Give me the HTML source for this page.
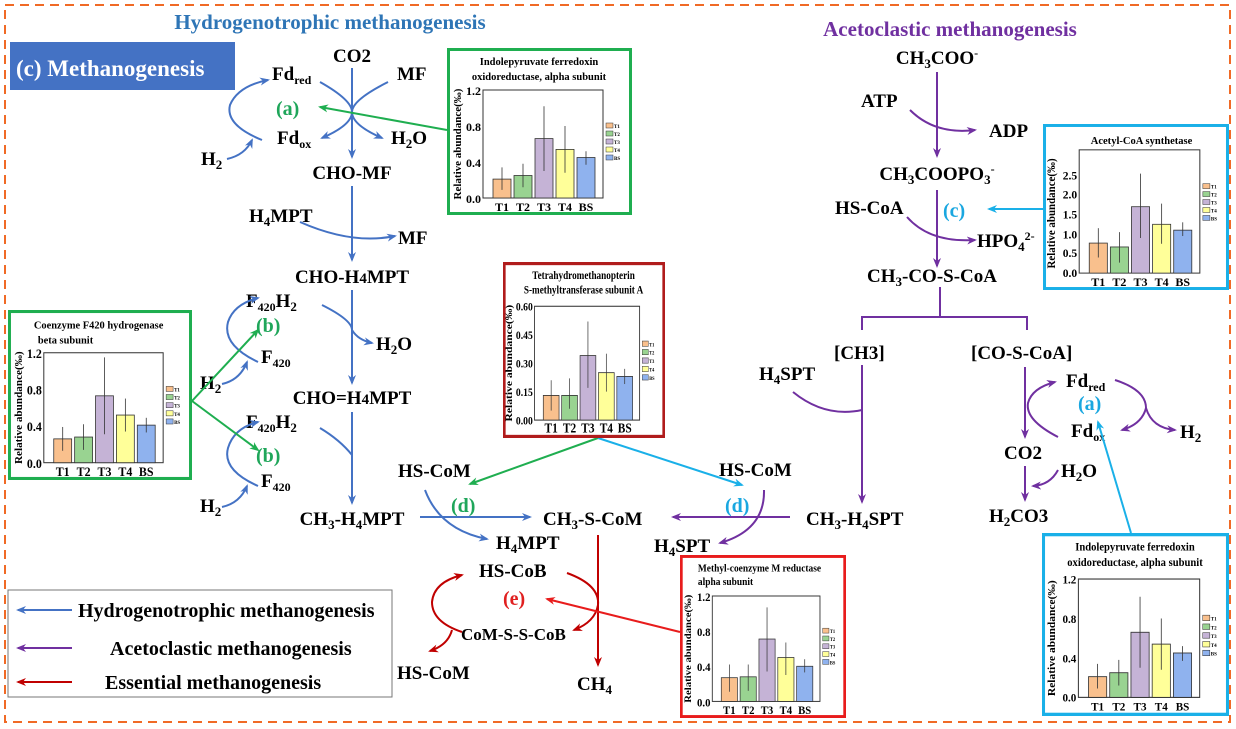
<!DOCTYPE html>
<html><head><meta charset="utf-8">
<style>
html,body{margin:0;padding:0;background:#fff;}
svg{display:block;}
text{font-family:"Liberation Serif",serif;font-weight:bold;}
</style></head>
<body>
<svg width="1236" height="729" viewBox="0 0 1236 729" xmlns="http://www.w3.org/2000/svg">
<defs>
<marker id="mb" markerWidth="10" markerHeight="8" refX="8" refY="4" orient="auto" markerUnits="userSpaceOnUse"><path d="M0,0 L10,4 L0,8 L3,4z" fill="#4472c4"/></marker>
<marker id="mp" markerWidth="10" markerHeight="8" refX="8" refY="4" orient="auto" markerUnits="userSpaceOnUse"><path d="M0,0 L10,4 L0,8 L3,4z" fill="#7030a0"/></marker>
<marker id="md" markerWidth="10" markerHeight="8" refX="8" refY="4" orient="auto" markerUnits="userSpaceOnUse"><path d="M0,0 L10,4 L0,8 L3,4z" fill="#c00000"/></marker>
<marker id="mg" markerWidth="10" markerHeight="8" refX="8" refY="4" orient="auto" markerUnits="userSpaceOnUse"><path d="M0,0 L10,4 L0,8 L3,4z" fill="#1fae50"/></marker>
<marker id="mc" markerWidth="10" markerHeight="8" refX="8" refY="4" orient="auto" markerUnits="userSpaceOnUse"><path d="M0,0 L10,4 L0,8 L3,4z" fill="#1ab0e8"/></marker>
<marker id="mr" markerWidth="10" markerHeight="8" refX="8" refY="4" orient="auto" markerUnits="userSpaceOnUse"><path d="M0,0 L10,4 L0,8 L3,4z" fill="#e81c1c"/></marker>
</defs>
<rect x="0" y="0" width="1236" height="729" fill="#fff"/>
<rect x="5" y="5" width="1225" height="717" fill="none" stroke="#f06a26" stroke-width="2" stroke-dasharray="9,6"/>

<text x="330" y="29" font-size="21" fill="#2e75b6" text-anchor="middle">Hydrogenotrophic methanogenesis</text>
<text x="950" y="36" font-size="21" fill="#7030a0" text-anchor="middle">Acetoclastic methanogenesis</text>
<rect x="10" y="42" width="225" height="48" fill="#4472c4"/>
<text x="16" y="76" font-size="23" fill="#fff">(c) Methanogenesis</text>

<g font-size="19" fill="#000">
<text x="352" y="62" text-anchor="middle">CO2</text>
<text x="272" y="80">Fd<tspan font-size="12" baseline-shift="-4">red</tspan></text>
<text x="397" y="80">MF</text>
<text x="277" y="144">Fd<tspan font-size="12" baseline-shift="-4">ox</tspan></text>
<text x="391" y="144">H<tspan font-size="13" baseline-shift="-4">2</tspan>O</text>
<text x="201" y="165">H<tspan font-size="13" baseline-shift="-4">2</tspan></text>
<text x="352" y="179" text-anchor="middle">CHO-MF</text>
<text x="249" y="222">H<tspan font-size="13" baseline-shift="-4">4</tspan>MPT</text>
<text x="398" y="244">MF</text>
<text x="352" y="283" text-anchor="middle">CHO-H<tspan font-size="15">4</tspan>MPT</text>
<text x="246" y="307">F<tspan font-size="12" baseline-shift="-4">420</tspan>H<tspan font-size="13" baseline-shift="-4">2</tspan></text>
<text x="261" y="363">F<tspan font-size="12" baseline-shift="-4">420</tspan></text>
<text x="376" y="350">H<tspan font-size="13" baseline-shift="-4">2</tspan>O</text>
<text x="200" y="389">H<tspan font-size="13" baseline-shift="-4">2</tspan></text>
<text x="352" y="404" text-anchor="middle">CHO=H<tspan font-size="15">4</tspan>MPT</text>
<text x="246" y="428">F<tspan font-size="12" baseline-shift="-4">420</tspan>H<tspan font-size="13" baseline-shift="-4">2</tspan></text>
<text x="261" y="487">F<tspan font-size="12" baseline-shift="-4">420</tspan></text>
<text x="200" y="512">H<tspan font-size="13" baseline-shift="-4">2</tspan></text>
<text x="352" y="525" text-anchor="middle">CH<tspan font-size="13" baseline-shift="-4">3</tspan>-H<tspan font-size="13" baseline-shift="-4">4</tspan>MPT</text>
<text x="398" y="477">HS-CoM</text>
<text x="543" y="525">CH<tspan font-size="13" baseline-shift="-4">3</tspan>-S-CoM</text>
<text x="496" y="549">H<tspan font-size="13" baseline-shift="-4">4</tspan>MPT</text>
<text x="479" y="577">HS-CoB</text>
<text x="461" y="640" font-size="17">CoM-S-S-CoB</text>
<text x="397" y="679">HS-CoM</text>
<text x="577" y="690">CH<tspan font-size="13" baseline-shift="-4">4</tspan></text>
<text x="719" y="476">HS-CoM</text>
<text x="654" y="552">H<tspan font-size="13" baseline-shift="-4">4</tspan>SPT</text>
<text x="806" y="525">CH<tspan font-size="13" baseline-shift="-4">3</tspan>-H<tspan font-size="13" baseline-shift="-4">4</tspan>SPT</text>
<text x="937" y="64" text-anchor="middle">CH<tspan font-size="13" baseline-shift="-4">3</tspan>COO<tspan font-size="12" baseline-shift="7">-</tspan></text>
<text x="861" y="107">ATP</text>
<text x="989" y="137">ADP</text>
<text x="937" y="180" text-anchor="middle">CH<tspan font-size="13" baseline-shift="-4">3</tspan>COOPO<tspan font-size="13" baseline-shift="-4">3</tspan><tspan font-size="12" baseline-shift="7">-</tspan></text>
<text x="835" y="214">HS-CoA</text>
<text x="977" y="247">HPO<tspan font-size="13" baseline-shift="-4">4</tspan><tspan font-size="12" baseline-shift="7">2-</tspan></text>
<text x="932" y="282" text-anchor="middle">CH<tspan font-size="13" baseline-shift="-4">3</tspan>-CO-S-CoA</text>
<text x="834" y="359">[CH3]</text>
<text x="971" y="359">[CO-S-CoA]</text>
<text x="759" y="380">H<tspan font-size="13" baseline-shift="-4">4</tspan>SPT</text>
<text x="1066" y="387">Fd<tspan font-size="12" baseline-shift="-4">red</tspan></text>
<text x="1071" y="437">Fd<tspan font-size="12" baseline-shift="-4">ox</tspan></text>
<text x="1180" y="438">H<tspan font-size="13" baseline-shift="-4">2</tspan></text>
<text x="1004" y="459">CO2</text>
<text x="1061" y="477">H<tspan font-size="13" baseline-shift="-4">2</tspan>O</text>
<text x="989" y="522">H<tspan font-size="13" baseline-shift="-4">2</tspan>CO3</text>
</g>

<g font-size="20">
<text x="276" y="115" fill="#1fa65a">(a)</text>
<text x="256" y="332" fill="#1fa65a">(b)</text>
<text x="256" y="462" fill="#1fa65a">(b)</text>
<text x="451" y="512" fill="#1fa65a">(d)</text>
<text x="725" y="512" fill="#1aa7e0">(d)</text>
<text x="503" y="605" fill="#e02020">(e)</text>
<text x="943" y="217" fill="#1aa7e0">(c)</text>
<text x="1078" y="410" fill="#1aa7e0">(a)</text>
</g>

<g fill="none" stroke="#4472c4" stroke-width="2">
<line x1="352" y1="68" x2="352" y2="157" marker-end="url(#mb)"/>
<path d="M320,82 Q352,100 352,112 Q352,125 322,138" marker-end="url(#mb)"/>
<path d="M388,82 Q352,100 352,112 Q352,125 382,138" marker-end="url(#mb)"/>
<path d="M262,140 Q225,125 230,105 Q238,86 268,80" marker-end="url(#mb)"/>
<path d="M227,159 Q245,155 252,140" marker-end="url(#mb)"/>
<line x1="352" y1="186" x2="352" y2="260" marker-end="url(#mb)"/>
<path d="M300,222 Q352,245 395,236" marker-end="url(#mb)"/>
<line x1="352" y1="290" x2="352" y2="383" marker-end="url(#mb)"/>
<path d="M322,305 Q352,320 352,330 Q358,340 372,343" marker-end="url(#mb)"/>
<path d="M258,362 Q222,345 228,322 Q234,304 258,298" marker-end="url(#mb)"/>
<path d="M222,384 Q240,380 247,362" marker-end="url(#mb)"/>
<line x1="352" y1="412" x2="352" y2="503" marker-end="url(#mb)"/>
<path d="M320,428 Q340,440 352,455" />
<path d="M258,486 Q222,470 228,448 Q234,428 258,422" marker-end="url(#mb)"/>
<path d="M222,507 Q240,503 247,486" marker-end="url(#mb)"/>
<line x1="420" y1="517" x2="530" y2="517" marker-end="url(#mb)"/>
<path d="M425,490 Q440,530 487,539" marker-end="url(#mb)"/>
</g>
<g fill="none" stroke="#1fae50" stroke-width="2">
<line x1="447" y1="130" x2="320" y2="107" marker-end="url(#mg)"/>
<line x1="192" y1="401" x2="258" y2="330" marker-end="url(#mg)"/>
<line x1="192" y1="401" x2="258" y2="450" marker-end="url(#mg)"/>
<line x1="598" y1="438" x2="470" y2="484" marker-end="url(#mg)"/>
</g>
<g fill="none" stroke="#1ab0e8" stroke-width="2">
<line x1="598" y1="438" x2="742" y2="485" marker-end="url(#mc)"/>
<line x1="1043" y1="209" x2="989" y2="209" marker-end="url(#mc)"/>
<line x1="1131" y1="533" x2="1098" y2="422" marker-end="url(#mc)"/>
</g>
<g fill="none" stroke="#c00000" stroke-width="2">
<line x1="598" y1="535" x2="598" y2="665" marker-end="url(#md)"/>
<path d="M567,573 Q600,585 598,605 Q595,622 574,630" marker-end="url(#md)"/>
<path d="M462,632 Q432,622 432,602 Q434,582 462,575" marker-end="url(#md)"/>
<path d="M452,630 Q448,645 430,651" marker-end="url(#md)"/>
</g>
<line x1="680" y1="632" x2="547" y2="599" stroke="#e81c1c" stroke-width="2" marker-end="url(#mr)"/>
<g fill="none" stroke="#7030a0" stroke-width="2">
<line x1="790" y1="517" x2="673" y2="517" marker-end="url(#mp)"/>
<path d="M764,490 Q765,530 720,543" marker-end="url(#mp)"/>
<line x1="937" y1="72" x2="937" y2="156" marker-end="url(#mp)"/>
<path d="M910,110 Q935,135 975,130" marker-end="url(#mp)"/>
<line x1="937" y1="190" x2="937" y2="266" marker-end="url(#mp)"/>
<path d="M907,217 Q930,243 975,240" marker-end="url(#mp)"/>
<polyline points="940,287 940,317"/>
<polyline points="862,330 862,317 1027,317 1027,330"/>
<line x1="862" y1="365" x2="862" y2="502" marker-end="url(#mp)"/>
<path d="M793,392 Q825,418 862,410"/>
<line x1="1025" y1="367" x2="1025" y2="437" marker-end="url(#mp)"/>
<path d="M1058,437 Q1025,420 1028,403 Q1032,388 1055,382" marker-end="url(#mp)"/>
<path d="M1115,380 Q1146,390 1146,408 Q1142,424 1122,430" marker-end="url(#mp)"/>
<path d="M1146,408 Q1152,428 1175,430" marker-end="url(#mp)"/>
<line x1="1025" y1="466" x2="1025" y2="500" marker-end="url(#mp)"/>
<path d="M1058,470 Q1050,485 1033,486" marker-end="url(#mp)"/>
</g>

<rect x="8" y="590" width="384" height="107" fill="#fff" stroke="#777" stroke-width="1"/>
<line x1="72" y1="610" x2="18" y2="610" stroke="#4472c4" stroke-width="2" marker-end="url(#mb)"/>
<line x1="72" y1="648" x2="18" y2="648" stroke="#7030a0" stroke-width="2" marker-end="url(#mp)"/>
<line x1="72" y1="682" x2="18" y2="682" stroke="#c00000" stroke-width="2" marker-end="url(#md)"/>
<text x="78" y="617" font-size="20">Hydrogenotrophic methanogenesis</text>
<text x="110" y="655" font-size="20">Acetoclastic methanogenesis</text>
<text x="105" y="689" font-size="20">Essential methanogenesis</text>

<!-- Chart 1 -->
<svg x="447" y="48" width="185" height="167" viewBox="0 0 185 167" preserveAspectRatio="none">
<rect x="1.5" y="1.5" width="182" height="164" fill="#fff" stroke="#1fae50" stroke-width="3"/>
<text x="92" y="17" font-size="10.5" text-anchor="middle">Indolepyruvate ferredoxin</text>
<text x="92" y="32" font-size="10.5" text-anchor="middle">oxidoreductase, alpha subunit</text>
<rect x="36" y="42" width="120" height="108" fill="none" stroke="#333" stroke-width="1"/>
<g font-size="12" text-anchor="end"><text x="34" y="47">1.2</text><text x="34" y="83">0.8</text><text x="34" y="119">0.4</text><text x="34" y="155">0.0</text></g>
<text transform="translate(14,96) rotate(-90)" font-size="11" text-anchor="middle">Relative abundance(‰)</text>
<g stroke="#333" stroke-width="0.8">
<rect x="46" y="131.1" width="18" height="18.9" fill="#f9c08d"/><rect x="67" y="127.5" width="18" height="22.5" fill="#99d391"/><rect x="88" y="90.6" width="18" height="59.4" fill="#c5b3d6"/><rect x="109" y="101.4" width="18" height="48.6" fill="#ffff99"/><rect x="130" y="109.5" width="18" height="40.5" fill="#8fb2ee"/>
<line x1="55" y1="141.9" x2="55" y2="119.4"/><line x1="76" y1="139.2" x2="76" y2="115.8"/><line x1="97" y1="123" x2="97" y2="58.2"/><line x1="118" y1="124.8" x2="118" y2="78"/><line x1="139" y1="116.7" x2="139" y2="103.2"/>
</g>
<g font-size="12" text-anchor="middle"><text x="55" y="163">T1</text><text x="76" y="163">T2</text><text x="97" y="163">T3</text><text x="118" y="163">T4</text><text x="139" y="163">BS</text></g>
<g stroke="#333" stroke-width="0.5"><rect x="159" y="75" width="7" height="5" fill="#f9c08d"/><rect x="159" y="83" width="7" height="5" fill="#99d391"/><rect x="159" y="91" width="7" height="5" fill="#c5b3d6"/><rect x="159" y="99" width="7" height="5" fill="#ffff99"/><rect x="159" y="107" width="7" height="5" fill="#8fb2ee"/></g>
<g font-size="5"><text x="167" y="80">T1</text><text x="167" y="88">T2</text><text x="167" y="96">T3</text><text x="167" y="104">T4</text><text x="167" y="112">BS</text></g>
</svg>

<!-- Chart 2 -->
<svg x="8" y="310" width="184" height="170" viewBox="0 0 185 167" preserveAspectRatio="none">
<rect x="1.5" y="1.5" width="182" height="164" fill="#fff" stroke="#1fae50" stroke-width="3"/>
<text x="26" y="18" font-size="10.5">Coenzyme F420 hydrogenase</text>
<text x="30" y="33" font-size="10.5">beta subunit</text>
<rect x="36" y="42" width="120" height="108" fill="none" stroke="#333" stroke-width="1"/>
<g font-size="12" text-anchor="end"><text x="34" y="47">1.2</text><text x="34" y="83">0.8</text><text x="34" y="119">0.4</text><text x="34" y="155">0.0</text></g>
<text transform="translate(14,96) rotate(-90)" font-size="11" text-anchor="middle">Relative abundance(‰)</text>
<g stroke="#333" stroke-width="0.8">
<rect x="46" y="126.6" width="18" height="23.4" fill="#f9c08d"/><rect x="67" y="124.8" width="18" height="25.2" fill="#99d391"/><rect x="88" y="84.3" width="18" height="65.7" fill="#c5b3d6"/><rect x="109" y="103.2" width="18" height="46.8" fill="#ffff99"/><rect x="130" y="113.1" width="18" height="36.9" fill="#8fb2ee"/>
<line x1="55" y1="138.3" x2="55" y2="114.9"/><line x1="76" y1="137.4" x2="76" y2="112.2"/><line x1="97" y1="122.1" x2="97" y2="46.5"/><line x1="118" y1="119.4" x2="118" y2="87"/><line x1="139" y1="120.3" x2="139" y2="105.9"/>
</g>
<g font-size="12" text-anchor="middle"><text x="55" y="163">T1</text><text x="76" y="163">T2</text><text x="97" y="163">T3</text><text x="118" y="163">T4</text><text x="139" y="163">BS</text></g>
<g stroke="#333" stroke-width="0.5"><rect x="159" y="75" width="7" height="5" fill="#f9c08d"/><rect x="159" y="83" width="7" height="5" fill="#99d391"/><rect x="159" y="91" width="7" height="5" fill="#c5b3d6"/><rect x="159" y="99" width="7" height="5" fill="#ffff99"/><rect x="159" y="107" width="7" height="5" fill="#8fb2ee"/></g>
<g font-size="5"><text x="167" y="80">T1</text><text x="167" y="88">T2</text><text x="167" y="96">T3</text><text x="167" y="104">T4</text><text x="167" y="112">BS</text></g>
</svg>

<!-- Chart 3 -->
<svg x="503" y="262" width="162" height="176" viewBox="0 0 185 167" preserveAspectRatio="none">
<rect x="1.5" y="1.5" width="182" height="164" fill="#fff" stroke="#b01c1c" stroke-width="3"/>
<text x="92" y="16" font-size="10.5" text-anchor="middle">Tetrahydromethanopterin</text>
<text x="92" y="30" font-size="10.5" text-anchor="middle">S-methyltransferase subunit A</text>
<rect x="36" y="42" width="120" height="108" fill="none" stroke="#333" stroke-width="1"/>
<g font-size="11" text-anchor="end"><text x="34" y="46">0.60</text><text x="34" y="73">0.45</text><text x="34" y="100">0.30</text><text x="34" y="127">0.15</text><text x="34" y="154">0.00</text></g>
<text transform="translate(10,96) rotate(-90)" font-size="11" text-anchor="middle">Relative abundance(‰)</text>
<g stroke="#333" stroke-width="0.8">
<rect x="46" y="126.6" width="18" height="23.4" fill="#f9c08d"/><rect x="67" y="126.6" width="18" height="23.4" fill="#99d391"/><rect x="88" y="88.8" width="18" height="61.2" fill="#c5b3d6"/><rect x="109" y="105" width="18" height="45" fill="#ffff99"/><rect x="130" y="108.6" width="18" height="41.4" fill="#8fb2ee"/>
<line x1="55" y1="141" x2="55" y2="112.2"/><line x1="76" y1="139.2" x2="76" y2="110.4"/><line x1="97" y1="119.4" x2="97" y2="56.4"/><line x1="118" y1="123" x2="118" y2="87"/><line x1="139" y1="115.8" x2="139" y2="101.4"/>
</g>
<g font-size="13" text-anchor="middle"><text x="55" y="162">T1</text><text x="76" y="162">T2</text><text x="97" y="162">T3</text><text x="118" y="162">T4</text><text x="139" y="162">BS</text></g>
<g stroke="#333" stroke-width="0.5"><rect x="159" y="75" width="7" height="5" fill="#f9c08d"/><rect x="159" y="83" width="7" height="5" fill="#99d391"/><rect x="159" y="91" width="7" height="5" fill="#c5b3d6"/><rect x="159" y="99" width="7" height="5" fill="#ffff99"/><rect x="159" y="107" width="7" height="5" fill="#8fb2ee"/></g>
<g font-size="5"><text x="167" y="80">T1</text><text x="167" y="88">T2</text><text x="167" y="96">T3</text><text x="167" y="104">T4</text><text x="167" y="112">BS</text></g>
</svg>

<!-- Chart 4 -->
<svg x="1043" y="124" width="186" height="166" viewBox="0 0 185 167" preserveAspectRatio="none">
<rect x="1.5" y="1.5" width="182" height="164" fill="#fff" stroke="#1ab0e8" stroke-width="3"/>
<text x="98" y="20" font-size="10.5" text-anchor="middle">Acetyl-CoA synthetase</text>
<rect x="36" y="26" width="120" height="124" fill="none" stroke="#333" stroke-width="1"/>
<g font-size="11.5" text-anchor="end"><text x="34" y="56">2.5</text><text x="34" y="75">2.0</text><text x="34" y="95">1.5</text><text x="34" y="115">1.0</text><text x="34" y="134">0.5</text><text x="34" y="154">0.0</text></g>
<text transform="translate(12,90) rotate(-90)" font-size="11" text-anchor="middle">Relative abundance(‰)</text>
<g stroke="#333" stroke-width="0.8">
<rect x="46" y="119.8" width="18" height="30.2" fill="#f9c08d"/><rect x="67" y="123.7" width="18" height="26.3" fill="#99d391"/><rect x="88" y="83.2" width="18" height="66.8" fill="#c5b3d6"/><rect x="109" y="100.9" width="18" height="49.1" fill="#ffff99"/><rect x="130" y="106.8" width="18" height="43.2" fill="#8fb2ee"/>
<line x1="55" y1="134.3" x2="55" y2="104.8"/><line x1="76" y1="139.4" x2="76" y2="108.8"/><line x1="97" y1="114.7" x2="97" y2="49.9"/><line x1="118" y1="120.5" x2="118" y2="80.1"/><line x1="139" y1="112.7" x2="139" y2="98.9"/>
</g>
<g font-size="12" text-anchor="middle"><text x="55" y="163">T1</text><text x="76" y="163">T2</text><text x="97" y="163">T3</text><text x="118" y="163">T4</text><text x="139" y="163">BS</text></g>
<g stroke="#333" stroke-width="0.5"><rect x="159" y="60" width="7" height="5" fill="#f9c08d"/><rect x="159" y="68" width="7" height="5" fill="#99d391"/><rect x="159" y="76" width="7" height="5" fill="#c5b3d6"/><rect x="159" y="84" width="7" height="5" fill="#ffff99"/><rect x="159" y="92" width="7" height="5" fill="#8fb2ee"/></g>
<g font-size="5"><text x="167" y="65">T1</text><text x="167" y="73">T2</text><text x="167" y="81">T3</text><text x="167" y="89">T4</text><text x="167" y="97">BS</text></g>
</svg>

<!-- Chart 5 -->
<svg x="680" y="555" width="166" height="163" viewBox="0 0 185 167" preserveAspectRatio="none">
<rect x="1.5" y="1.5" width="182" height="164" fill="#fff" stroke="#e81c1c" stroke-width="3"/>
<text x="20" y="17" font-size="10.5">Methyl-coenzyme M reductase</text>
<text x="20" y="31" font-size="10.5">alpha subunit</text>
<rect x="36" y="42" width="120" height="108" fill="none" stroke="#333" stroke-width="1"/>
<g font-size="12" text-anchor="end"><text x="34" y="47">1.2</text><text x="34" y="83">0.8</text><text x="34" y="119">0.4</text><text x="34" y="155">0.0</text></g>
<text transform="translate(12,96) rotate(-90)" font-size="11" text-anchor="middle">Relative abundance(‰)</text>
<g stroke="#333" stroke-width="0.8">
<rect x="46" y="125.7" width="18" height="24.3" fill="#f9c08d"/><rect x="67" y="124.8" width="18" height="25.2" fill="#99d391"/><rect x="88" y="86.1" width="18" height="63.9" fill="#c5b3d6"/><rect x="109" y="105" width="18" height="45" fill="#ffff99"/><rect x="130" y="114" width="18" height="36" fill="#8fb2ee"/>
<line x1="55" y1="140.1" x2="55" y2="112.2"/><line x1="76" y1="139.2" x2="76" y2="112.2"/><line x1="97" y1="119.4" x2="97" y2="53.7"/><line x1="118" y1="123" x2="118" y2="89.7"/><line x1="139" y1="120.3" x2="139" y2="106.8"/>
</g>
<g font-size="12" text-anchor="middle"><text x="55" y="163">T1</text><text x="76" y="163">T2</text><text x="97" y="163">T3</text><text x="118" y="163">T4</text><text x="139" y="163">BS</text></g>
<g stroke="#333" stroke-width="0.5"><rect x="159" y="75" width="7" height="5" fill="#f9c08d"/><rect x="159" y="83" width="7" height="5" fill="#99d391"/><rect x="159" y="91" width="7" height="5" fill="#c5b3d6"/><rect x="159" y="99" width="7" height="5" fill="#ffff99"/><rect x="159" y="107" width="7" height="5" fill="#8fb2ee"/></g>
<g font-size="5"><text x="167" y="80">T1</text><text x="167" y="88">T2</text><text x="167" y="96">T3</text><text x="167" y="104">T4</text><text x="167" y="112">BS</text></g>
</svg>

<!-- Chart 6 -->
<svg x="1042" y="533" width="187" height="183" viewBox="0 0 185 167" preserveAspectRatio="none">
<rect x="1.5" y="1.5" width="182" height="164" fill="#fff" stroke="#1ab0e8" stroke-width="3"/>
<text x="92" y="16" font-size="10.5" text-anchor="middle">Indolepyruvate ferredoxin</text>
<text x="92" y="30" font-size="10.5" text-anchor="middle">oxidoreductase, alpha subunit</text>
<rect x="36" y="42" width="120" height="108" fill="none" stroke="#333" stroke-width="1"/>
<g font-size="11" text-anchor="end"><text x="34" y="46">1.2</text><text x="34" y="82">0.8</text><text x="34" y="118">0.4</text><text x="34" y="154">0.0</text></g>
<text transform="translate(13,96) rotate(-90)" font-size="10.5" text-anchor="middle">Relative abundance(‰)</text>
<g stroke="#333" stroke-width="0.8">
<rect x="46" y="131.1" width="18" height="18.9" fill="#f9c08d"/><rect x="67" y="127.5" width="18" height="22.5" fill="#99d391"/><rect x="88" y="90.6" width="18" height="59.4" fill="#c5b3d6"/><rect x="109" y="101.4" width="18" height="48.6" fill="#ffff99"/><rect x="130" y="109.5" width="18" height="40.5" fill="#8fb2ee"/>
<line x1="55" y1="141.9" x2="55" y2="119.4"/><line x1="76" y1="139.2" x2="76" y2="115.8"/><line x1="97" y1="123" x2="97" y2="58.2"/><line x1="118" y1="124.8" x2="118" y2="78"/><line x1="139" y1="116.7" x2="139" y2="103.2"/>
</g>
<g font-size="11" text-anchor="middle"><text x="55" y="162">T1</text><text x="76" y="162">T2</text><text x="97" y="162">T3</text><text x="118" y="162">T4</text><text x="139" y="162">BS</text></g>
<g stroke="#333" stroke-width="0.5"><rect x="159" y="75" width="7" height="5" fill="#f9c08d"/><rect x="159" y="83" width="7" height="5" fill="#99d391"/><rect x="159" y="91" width="7" height="5" fill="#c5b3d6"/><rect x="159" y="99" width="7" height="5" fill="#ffff99"/><rect x="159" y="107" width="7" height="5" fill="#8fb2ee"/></g>
<g font-size="5"><text x="167" y="80">T1</text><text x="167" y="88">T2</text><text x="167" y="96">T3</text><text x="167" y="104">T4</text><text x="167" y="112">BS</text></g>
</svg>
</svg>
</body></html>
